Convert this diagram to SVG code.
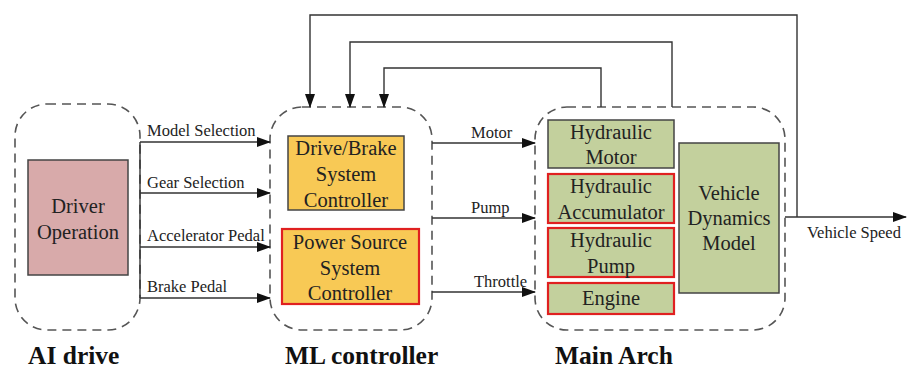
<svg xmlns="http://www.w3.org/2000/svg" width="908" height="370" viewBox="0 0 908 370">
<defs>
<marker id="ah" markerWidth="14" markerHeight="10" refX="13" refY="5" orient="auto" markerUnits="userSpaceOnUse">
<path d="M0,0 L14,5 L0,10 z" fill="#111"/>
</marker>
<style>
.grp{fill:none;stroke:#555;stroke-width:1.6;stroke-dasharray:9 6}
.box{stroke:#444;stroke-width:1.5}
.red{stroke:#e02020;stroke-width:2.2}
.yel{fill:#f8c955}
.grn{fill:#c3d09d}
.pink{fill:#d8aaaa}
text{font-family:'Liberation Serif','Times New Roman','DejaVu Serif',serif}
.t{font-size:20.5px;fill:#222;text-anchor:middle}
.l{font-size:16.5px;fill:#222}
.h{font-size:25.5px;font-weight:bold;fill:#111}
.c{fill:none;stroke:#333;stroke-width:1.4}
</style>
</defs>
<rect width="908" height="370" fill="#fff"/>

<g id="ai-drive">
<rect class="grp" x="15" y="104" width="125" height="226" rx="32"/>
<text class="h" x="28" y="364">AI drive</text>
</g>
<g id="driver-operation">
<rect class="box pink" x="28" y="160" width="100" height="115"/>
<text class="t" x="78" y="213">Driver</text>
<text class="t" x="78" y="239">Operation</text>
</g>

<g id="ml-controller">
<rect class="grp" x="270" y="107" width="162" height="223" rx="32"/>
<text class="h" x="285" y="364">ML controller</text>
</g>
<g id="drive-brake">
<rect class="box yel" x="288" y="136" width="116" height="74"/>
<text class="t" x="346" y="155">Drive/Brake</text>
<text class="t" x="346" y="181">System</text>
<text class="t" x="346" y="207">Controller</text>
</g>
<g id="power-source">
<rect class="red yel" x="282" y="229" width="137" height="75"/>
<text class="t" x="350" y="249">Power Source</text>
<text class="t" x="350" y="275">System</text>
<text class="t" x="350" y="300">Controller</text>
</g>

<g id="main-arch">
<rect class="grp" x="535" y="107" width="250" height="223" rx="32"/>
<text class="h" x="555" y="364">Main Arch</text>
</g>
<g id="hydraulic-motor">
<rect class="box grn" x="548" y="120" width="126" height="48"/>
<text class="t" x="611" y="139">Hydraulic</text>
<text class="t" x="611" y="164">Motor</text>
</g>
<g id="hydraulic-accumulator">
<rect class="red grn" x="548" y="174" width="126" height="49"/>
<text class="t" x="611" y="193">Hydraulic</text>
<text class="t" x="611" y="219">Accumulator</text>
</g>
<g id="hydraulic-pump">
<rect class="red grn" x="548" y="228" width="126" height="49"/>
<text class="t" x="611" y="247">Hydraulic</text>
<text class="t" x="611" y="273">Pump</text>
</g>
<g id="engine">
<rect class="red grn" x="548" y="283" width="126" height="31"/>
<text class="t" x="611" y="305">Engine</text>
</g>
<g id="vehicle-dynamics">
<rect class="box grn" x="679" y="143" width="100" height="150"/>
<text class="t" x="729" y="200">Vehicle</text>
<text class="t" x="729" y="225">Dynamics</text>
<text class="t" x="729" y="250">Model</text>
</g>

<g id="connectors">
<path class="c" d="M140,142 V298"/>
<path class="c" d="M140,142 H270" marker-end="url(#ah)"/>
<path class="c" d="M140,193 H270" marker-end="url(#ah)"/>
<path class="c" d="M140,247 H270" marker-end="url(#ah)"/>
<path class="c" d="M140,298 H270" marker-end="url(#ah)"/>
<text class="l" x="147" y="136">Model Selection</text>
<text class="l" x="147" y="188">Gear Selection</text>
<text class="l" x="147" y="241">Accelerator Pedal</text>
<text class="l" x="147" y="292">Brake Pedal</text>

<path class="c" d="M432,143 H535" marker-end="url(#ah)"/>
<path class="c" d="M432,218 H535" marker-end="url(#ah)"/>
<path class="c" d="M432,292 H535" marker-end="url(#ah)"/>
<text class="l" x="471" y="138">Motor</text>
<text class="l" x="471" y="213">Pump</text>
<text class="l" x="474" y="287">Throttle</text>

<path class="c" d="M785,217 H906" marker-end="url(#ah)"/>
<text class="l" x="807" y="238">Vehicle Speed</text>

<path class="c" d="M797,217 V15 H310 V107" marker-end="url(#ah)"/>
<path class="c" d="M672,107 V42 H350 V107" marker-end="url(#ah)"/>
<path class="c" d="M601,107 V68 H384 V107" marker-end="url(#ah)"/>
</g>
</svg>
